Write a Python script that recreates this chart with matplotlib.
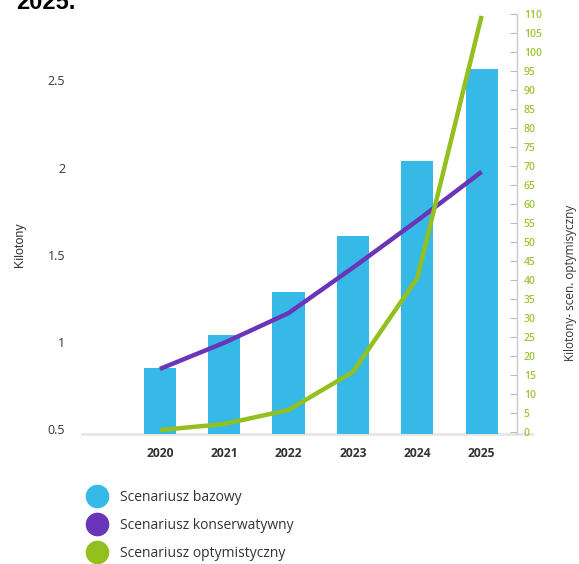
import matplotlib.pyplot as plt
from matplotlib.lines import Line2D
from matplotlib.transforms import ScaledTranslation

years = ['2020', '2021', '2022', '2023', '2024', '2025']
bazowy = [0.875, 1.065, 1.31, 1.63, 2.06, 2.59]
konserwatywny = [0.87, 1.02, 1.19, 1.45, 1.72, 2.0]
optymistyczny = [0.5, 2.1, 5.8, 15.8, 40.5, 109.5]

left_ticks = [0.5, 1, 1.5, 2, 2.5]
left_tick_labels = ['0.5', '1', '1.5', '2', '2.5']
right_ticks = list(range(0, 111, 5))

BLUE = '#36b9e6'
PURPLE = '#6a35b8'
GREEN = '#93c01f'
TEXT = '#333333'

plt.rcParams['font.family'] = ['Open Sans', 'DejaVu Sans']

fig = plt.figure(figsize=(5.79, 5.64), dpi=100)
W, H = 579, 564
ax = fig.add_axes([82 / W, 1 - 433.5 / H, (517 - 82) / W, (433.5 - 14) / H])

x = list(range(len(years)))
ax.bar(x, bazowy, width=0.5, color=BLUE, zorder=2)
ax.plot(x, konserwatywny, color=PURPLE, lw=3.2, solid_capstyle='butt', zorder=3)

ax.set_xlim(-1.21, 5.55)
ax.set_ylim(0.5, 2.904)
ax.set_xticks(x)
ax.set_xticklabels(years, fontweight='bold', fontsize=8.7, color=TEXT)
ax.tick_params(axis='x', length=0, pad=10)
ax.set_yticks(left_ticks)
ax.set_yticklabels(left_tick_labels, fontsize=9, color=TEXT)
ax.tick_params(axis='y', length=0, pad=12)
for lab in ax.get_yticklabels():
    lab.set_transform(lab.get_transform() + ScaledTranslation(0, 4 / 100, fig.dpi_scale_trans))
for s in ax.spines.values():
    s.set_visible(False)
ax.set_ylabel('Kilotony', fontsize=9, color=TEXT, family=['Liberation Sans'])
ax.yaxis.set_label_coords(-56 / 435, (433.5 - 245) / 419.5)

# light baseline running past the secondary axis
ax.plot([0, (532 - 82) / 435], [0, 0], transform=ax.transAxes, color='#e6e6e6',
        lw=2, clip_on=False, zorder=1)

ax2 = ax.twinx()
ax2.plot(x, optymistyczny, color=GREEN, lw=3.2, solid_capstyle='butt', zorder=3)
ax2.set_ylim(-0.4, 110)
ax2.set_yticks(right_ticks)
ax2.set_yticklabels([str(v) for v in right_ticks], fontsize=7.5, color='#9cc536', fontweight='semibold')
ax2.tick_params(axis='y', direction='in', length=5, width=0.8, color='#bbbbbb', pad=5)
for name, s in ax2.spines.items():
    s.set_visible(name == 'right')
ax2.spines['right'].set_color('#cccccc')
ax2.spines['right'].set_linewidth(1)
ax2.set_ylabel('Kilotony- scen. optymisyczny', fontsize=8.5, color=TEXT, rotation=90)
ax2.yaxis.set_label_coords((564 - 82) / 435, (433.5 - 283) / 419.5)

fig.text(16 / W, 1 - 9 / H, '2025.', fontsize=17, fontweight='bold',
         family=['Liberation Sans'], color='black', va='baseline')

handles = [Line2D([], [], ls='none', marker='o', markersize=16, color=c)
           for c in (BLUE, PURPLE, GREEN)]
labels = ['Scenariusz bazowy', 'Scenariusz konserwatywny', 'Scenariusz optymistyczny']
leg = fig.legend(handles, labels, loc='upper left', bbox_to_anchor=(83 / W, 1 - 484 / H),
                 frameon=False, fontsize=10, labelspacing=0.95, handletextpad=1.05,
                 handlelength=1.2, borderaxespad=0)
for t in leg.get_texts():
    t.set_color(TEXT)

fig.savefig('out.png', dpi=100)
